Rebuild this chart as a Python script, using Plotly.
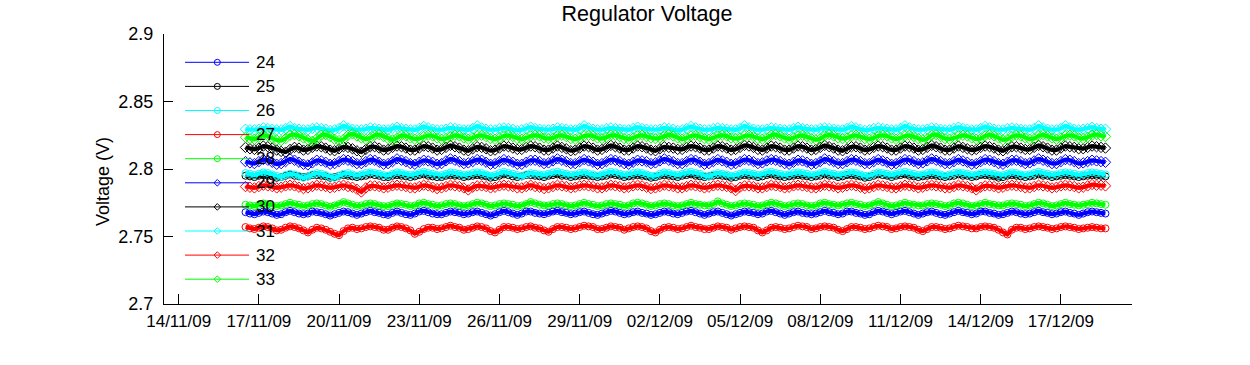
import pandas as pd
import plotly.graph_objects as go

# ---------------- data (mV, 4-hourly from 16/11/09 12:00) ----------------
start_time = "2009-11-16 12:00"

v24 = [2768, 2767, 2766.5, 2767.5, 2768.5, 2768, 2767, 2766, 2766.5, 2768, 2769, 2768,
       2767, 2766.5, 2767, 2768.5, 2768, 2767.5, 2766.5, 2765.5, 2766.5, 2767.5, 2768.5, 2768,
       2767, 2766, 2767, 2768, 2769, 2768, 2767.5, 2766.5, 2766, 2767.5, 2768.5, 2767.5,
       2766.5, 2766, 2767, 2768.5, 2769, 2768, 2767, 2766.5, 2766.5, 2767.5, 2768.5, 2768,
       2767.5, 2766.5, 2767, 2768, 2768.5, 2767.5, 2766.5, 2765.5, 2766.5, 2768, 2769, 2768,
       2767, 2766, 2767, 2768.5, 2768.5, 2767.5, 2767, 2766.5, 2767.5, 2768.5, 2769, 2768,
       2767.5, 2766.5, 2767, 2768, 2768.5, 2767.5, 2766.5, 2766, 2767, 2768, 2769, 2768.5,
       2767.5, 2766.5, 2767, 2768, 2768.5, 2767.5, 2767, 2766, 2766.5, 2767.5, 2768.5, 2768,
       2767, 2766.5, 2767.5, 2768.5, 2769, 2768, 2767, 2766, 2767, 2768, 2768.5, 2767.5,
       2766.5, 2765.5, 2766.5, 2767.5, 2768.5, 2768, 2767.5, 2766.5, 2767, 2768.5, 2769, 2768,
       2767, 2766, 2767, 2768, 2768.5, 2767.5, 2767, 2766.5, 2767, 2768, 2769, 2768,
       2767.5, 2766.5, 2767, 2768.5, 2768.5, 2767.5, 2767, 2766, 2766.5, 2768, 2769, 2768.5,
       2767.5, 2766.5, 2767.5, 2768.5, 2769, 2768, 2767, 2766, 2767, 2768, 2768.5, 2767.5,
       2766.5, 2766, 2767, 2768, 2769, 2768, 2767.5, 2766.5, 2767, 2768.5, 2768.5, 2767.5,
       2767, 2766, 2766.5, 2767.5, 2768.5, 2768, 2767, 2766.5, 2767, 2768, 2769, 2768,
       2767.5, 2766.5, 2767, 2768, 2768.5, 2767.5, 2767, 2766, 2767, 2768, 2768.5, 2768,
       2767.5, 2767]

v25 = [2795, 2794.5, 2794, 2795, 2795.5, 2795, 2794.5, 2793.5, 2794, 2795, 2796, 2795,
       2794.5, 2794, 2794.5, 2795.5, 2795.5, 2795, 2794.5, 2793.5, 2794, 2795, 2795.5, 2795,
       2794.5, 2794, 2794.5, 2795, 2796, 2795.5, 2795, 2794, 2794, 2795, 2795.5, 2795,
       2794.5, 2794, 2794.5, 2795.5, 2796, 2795, 2794.5, 2794, 2794, 2795, 2795.5, 2795,
       2795, 2794, 2794.5, 2795, 2795.5, 2795, 2794.5, 2793.5, 2794, 2795, 2796, 2795.5,
       2794.5, 2794, 2794.5, 2795.5, 2795.5, 2795, 2794.5, 2794, 2795, 2795.5, 2796, 2795,
       2795, 2794, 2794.5, 2795, 2795.5, 2795, 2794.5, 2794, 2794.5, 2795, 2796, 2795.5,
       2795, 2794, 2794.5, 2795, 2795.5, 2795, 2794.5, 2793.5, 2794, 2795, 2795.5, 2795,
       2794.5, 2794, 2795, 2795.5, 2796, 2795, 2794.5, 2794, 2794.5, 2795, 2795.5, 2795,
       2794.5, 2793.5, 2794, 2795, 2795.5, 2795, 2795, 2794, 2794.5, 2795.5, 2796, 2795,
       2794.5, 2794, 2794.5, 2795, 2795.5, 2795, 2794.5, 2794, 2794.5, 2795, 2796, 2795,
       2795, 2794, 2794.5, 2795.5, 2795.5, 2795, 2794.5, 2793.5, 2794, 2795, 2796, 2795.5,
       2795, 2794, 2795, 2795.5, 2796, 2795, 2794.5, 2794, 2794.5, 2795, 2795.5, 2795,
       2794.5, 2794, 2794.5, 2795, 2796, 2795, 2795, 2794, 2794.5, 2795.5, 2795.5, 2795,
       2794.5, 2793.5, 2794, 2795, 2795.5, 2795, 2794.5, 2794, 2794.5, 2795, 2796, 2795,
       2795, 2794, 2794.5, 2795, 2795.5, 2795, 2794.5, 2794, 2794.5, 2795, 2795.5, 2795,
       2795, 2794.5]

v26 = [2797, 2796.5, 2795.5, 2796.5, 2797.5, 2797, 2796, 2795, 2794, 2795.5, 2796.5, 2796,
       2795, 2793.5, 2794.5, 2796, 2797, 2796.5, 2795.5, 2794, 2793.5, 2795, 2796.5, 2797,
       2796, 2795, 2796, 2797, 2797.5, 2797, 2796.5, 2795.5, 2795, 2796.5, 2797.5, 2797,
       2796, 2795.5, 2796, 2797, 2798, 2797, 2796.5, 2795.5, 2795.5, 2796.5, 2797.5, 2797,
       2796.5, 2795.5, 2796, 2797, 2797.5, 2797, 2796, 2795, 2795.5, 2797, 2798, 2797,
       2796.5, 2795.5, 2794.5, 2796, 2797, 2796.5, 2796, 2795.5, 2796.5, 2797.5, 2798, 2797,
       2796.5, 2795.5, 2796, 2797, 2797.5, 2796.5, 2796, 2795, 2796, 2797, 2798, 2797.5,
       2796.5, 2795.5, 2796, 2797, 2797.5, 2797, 2796, 2795, 2795, 2796.5, 2797.5, 2797,
       2796, 2795.5, 2796.5, 2797.5, 2798, 2797, 2796.5, 2795, 2794.5, 2796, 2797, 2796.5,
       2796, 2795, 2795.5, 2796.5, 2797.5, 2797, 2796.5, 2795.5, 2796, 2797.5, 2798, 2797,
       2796.5, 2795.5, 2796, 2797, 2797.5, 2797, 2796.5, 2795.5, 2796, 2797, 2798, 2797,
       2796.5, 2795.5, 2796, 2797, 2797.5, 2797, 2796, 2795, 2795, 2796.5, 2797.5, 2797,
       2796.5, 2795.5, 2796.5, 2797.5, 2798, 2797, 2796.5, 2795.5, 2796, 2797, 2797.5, 2797,
       2796, 2795, 2796, 2797, 2797.5, 2797, 2796.5, 2795.5, 2796, 2797, 2797.5, 2797,
       2796.5, 2795.5, 2795.5, 2796.5, 2797.5, 2797, 2796, 2795.5, 2796, 2797, 2798, 2797,
       2796.5, 2795.5, 2796, 2797, 2797.5, 2797, 2796.5, 2795.5, 2796, 2797, 2797.5, 2797,
       2796.5, 2796]

v27 = [2757, 2756, 2755.5, 2756.5, 2757.5, 2757, 2756, 2754.5, 2755, 2756.5, 2757.5, 2757,
       2756, 2754.5, 2753, 2755, 2756.5, 2756, 2755, 2753.5, 2752, 2751, 2754, 2756,
       2756.5, 2755.5, 2756, 2757, 2757.5, 2757, 2756.5, 2755, 2755, 2756.5, 2757.5, 2757,
       2756, 2754.5, 2752, 2753.5, 2755.5, 2756.5, 2756.5, 2755.5, 2756, 2757, 2758, 2757,
       2756.5, 2755, 2755.5, 2756.5, 2757.5, 2757, 2756, 2754, 2753, 2755, 2757, 2757,
       2756.5, 2755.5, 2756, 2757, 2757.5, 2756.5, 2756, 2754.5, 2753.5, 2755.5, 2757, 2757,
       2756.5, 2755.5, 2756, 2757, 2758, 2757.5, 2757, 2755.5, 2755.5, 2756.5, 2757.5, 2757,
       2756.5, 2755, 2756, 2757, 2757.5, 2757, 2756, 2754, 2753, 2755, 2756.5, 2757,
       2756.5, 2755.5, 2756, 2757, 2758, 2757, 2756.5, 2755.5, 2755.5, 2756.5, 2757.5, 2757,
       2756.5, 2755, 2756, 2757, 2757.5, 2757, 2756.5, 2754.5, 2753, 2754.5, 2756.5, 2757,
       2756.5, 2755.5, 2756, 2757, 2758, 2757.5, 2757, 2755.5, 2756, 2757, 2757.5, 2757,
       2756.5, 2755, 2754, 2755.5, 2757, 2757, 2756.5, 2755.5, 2756, 2757, 2758, 2757.5,
       2757, 2755.5, 2756, 2757, 2757.5, 2757, 2756.5, 2755, 2754, 2755.5, 2757, 2757,
       2756.5, 2755.5, 2756, 2757, 2758, 2757.5, 2757, 2756, 2756, 2757, 2757.5, 2757,
       2756.5, 2755, 2753, 2751.5, 2755, 2756.5, 2756.5, 2755.5, 2756, 2757, 2757.5, 2757,
       2756.5, 2755.5, 2756, 2757, 2757.5, 2757, 2756.5, 2755.5, 2756, 2756.5, 2757, 2756.5,
       2756, 2756]

v28 = [2773.5, 2773, 2772.5, 2773.5, 2774.5, 2774, 2773, 2772.5, 2773, 2774, 2775, 2774,
       2773.5, 2772.5, 2773, 2774, 2774.5, 2774, 2773, 2772, 2773, 2774, 2775.5, 2774.5,
       2773.5, 2772.5, 2773, 2774, 2774.5, 2774, 2773, 2772.5, 2772.5, 2773.5, 2774.5, 2774,
       2773.5, 2772.5, 2773, 2774.5, 2775, 2774, 2773.5, 2772.5, 2773, 2774, 2774.5, 2774,
       2773, 2772.5, 2773, 2774, 2775, 2774.5, 2773.5, 2772.5, 2773, 2774, 2774.5, 2774,
       2773.5, 2772.5, 2773, 2774, 2775.5, 2774.5, 2773.5, 2773, 2773, 2774, 2774.5, 2774,
       2773, 2772.5, 2773, 2774, 2775, 2774, 2773.5, 2772.5, 2773, 2774, 2774.5, 2774,
       2773.5, 2772.5, 2773, 2774.5, 2775, 2774.5, 2773.5, 2772.5, 2773, 2774, 2774.5, 2774,
       2773, 2772.5, 2773, 2774, 2775, 2774, 2773.5, 2773, 2773, 2774, 2776, 2774.5,
       2773.5, 2772.5, 2773, 2774, 2774.5, 2774, 2773.5, 2772.5, 2773, 2774, 2775, 2774.5,
       2773.5, 2772.5, 2773, 2774, 2774.5, 2774, 2773, 2772.5, 2773, 2774.5, 2775, 2774,
       2773.5, 2773, 2773.5, 2774.5, 2775, 2774, 2773.5, 2772.5, 2773, 2774, 2775.5, 2774.5,
       2773.5, 2772.5, 2773, 2774, 2775, 2774, 2773.5, 2773, 2773, 2774, 2774.5, 2774,
       2773.5, 2772.5, 2773, 2774.5, 2775, 2774.5, 2773.5, 2772.5, 2773, 2774, 2775, 2774,
       2773.5, 2773, 2773, 2774, 2774.5, 2774, 2773.5, 2772.5, 2773, 2774, 2775, 2774.5,
       2773.5, 2772.5, 2773, 2774, 2775, 2774, 2773.5, 2773, 2773.5, 2774, 2775, 2774.5,
       2774, 2773.5]

v29 = [2805.5, 2804.5, 2804, 2805.5, 2807, 2806.5, 2805, 2803.5, 2804, 2805.5, 2807.5, 2806.5,
       2805, 2803.5, 2803, 2804.5, 2806.5, 2806, 2805, 2803.5, 2804, 2805.5, 2807, 2806.5,
       2805.5, 2804, 2804, 2805.5, 2807, 2806.5, 2805, 2803.5, 2804, 2805.5, 2807.5, 2806.5,
       2805.5, 2804, 2803.5, 2805, 2806.5, 2806, 2805, 2803.5, 2804, 2806, 2807.5, 2806.5,
       2805.5, 2804, 2804.5, 2805.5, 2807, 2806.5, 2805, 2803.5, 2804, 2805.5, 2807, 2806,
       2805, 2803.5, 2803.5, 2805, 2806.5, 2806.5, 2805.5, 2804, 2804.5, 2806, 2807.5, 2806.5,
       2805.5, 2804, 2804, 2805.5, 2807, 2806, 2805, 2803.5, 2804, 2805.5, 2807, 2806.5,
       2805.5, 2804, 2803.5, 2805, 2806.5, 2806, 2805.5, 2804, 2804.5, 2806, 2807.5, 2806.5,
       2805.5, 2804, 2804, 2805.5, 2807, 2806.5, 2805, 2803.5, 2804, 2805.5, 2807, 2806,
       2805, 2803.5, 2804, 2805.5, 2807, 2806.5, 2805.5, 2804, 2804.5, 2806, 2807, 2806.5,
       2805.5, 2804, 2803.5, 2805, 2806.5, 2806, 2805, 2803.5, 2804, 2805.5, 2807.5, 2806.5,
       2805.5, 2804, 2804, 2805.5, 2807, 2806.5, 2805.5, 2804, 2804, 2805.5, 2807, 2806,
       2805, 2803.5, 2804, 2805.5, 2807, 2806.5, 2805.5, 2804, 2804.5, 2806, 2807.5, 2806.5,
       2805.5, 2804, 2804, 2805.5, 2807, 2806, 2805, 2803.5, 2804, 2805.5, 2807, 2806.5,
       2805.5, 2804, 2803.5, 2805, 2806.5, 2806.5, 2805.5, 2804, 2804.5, 2806, 2807.5, 2806.5,
       2805.5, 2804, 2804, 2805.5, 2807, 2806.5, 2805.5, 2804, 2804.5, 2805.5, 2806.5, 2806,
       2805.5, 2805]

v30 = [2816, 2815, 2814.5, 2815.5, 2817, 2816.5, 2815.5, 2814, 2813, 2812.5, 2814.5, 2816,
       2815.5, 2814, 2814.5, 2816, 2817, 2816.5, 2815.5, 2814, 2813.5, 2815, 2816.5, 2816,
       2815, 2813.5, 2812.5, 2814.5, 2816.5, 2816.5, 2815.5, 2814, 2814.5, 2816, 2817, 2816.5,
       2815.5, 2814, 2814, 2815.5, 2817, 2816.5, 2815.5, 2814, 2814.5, 2816, 2817.5, 2816.5,
       2815.5, 2814, 2813.5, 2815, 2816.5, 2816, 2815, 2813.5, 2814, 2815.5, 2817, 2816.5,
       2815.5, 2814.5, 2814.5, 2816, 2817, 2816.5, 2815.5, 2814, 2814, 2815.5, 2817, 2816,
       2815, 2813.5, 2814, 2815.5, 2817, 2816.5, 2815.5, 2814, 2814.5, 2816, 2817.5, 2816.5,
       2815.5, 2814, 2814, 2815.5, 2817, 2816.5, 2815.5, 2814, 2813.5, 2815, 2816.5, 2816,
       2815.5, 2814.5, 2814.5, 2816, 2817, 2816.5, 2815.5, 2814, 2814, 2815.5, 2817, 2816.5,
       2815.5, 2814, 2814.5, 2816, 2817.5, 2817, 2816, 2814.5, 2814, 2815.5, 2817, 2816.5,
       2815.5, 2814, 2814, 2815.5, 2817, 2816.5, 2815.5, 2814, 2814.5, 2816, 2817.5, 2816.5,
       2815.5, 2814, 2813.5, 2815, 2816.5, 2816.5, 2815.5, 2814, 2814.5, 2816, 2817, 2816.5,
       2815.5, 2814, 2814, 2815.5, 2817, 2816.5, 2815.5, 2814, 2814.5, 2816, 2817.5, 2816.5,
       2815.5, 2814, 2814, 2815.5, 2817, 2816, 2815, 2814, 2814.5, 2816, 2817, 2816.5,
       2815.5, 2814, 2813.5, 2815, 2816.5, 2816.5, 2815.5, 2814.5, 2814.5, 2816, 2817.5, 2816.5,
       2815.5, 2814, 2814, 2815.5, 2817, 2816.5, 2816, 2815, 2815, 2816, 2817, 2816.5,
       2816, 2815.5]

v31 = [2829.5, 2829, 2829, 2829.5, 2830.5, 2830, 2829.5, 2829, 2829, 2830, 2831.5, 2830,
       2829.5, 2829, 2829, 2830, 2830.5, 2830, 2829.5, 2828.5, 2829, 2830, 2832, 2830.5,
       2829.5, 2829, 2829, 2829.5, 2830.5, 2830, 2829.5, 2829, 2829, 2830, 2831, 2830,
       2829.5, 2829, 2829, 2830, 2831.5, 2830.5, 2829.5, 2829, 2829, 2829.5, 2830.5, 2830,
       2829.5, 2829, 2829, 2830, 2832, 2830.5, 2829.5, 2829, 2829, 2830, 2830.5, 2830,
       2829.5, 2828.5, 2829, 2830, 2831, 2830, 2829.5, 2829, 2829, 2829.5, 2830.5, 2830,
       2829.5, 2829, 2829, 2830, 2832, 2830.5, 2829.5, 2829, 2829, 2830, 2830.5, 2830,
       2829.5, 2829, 2829, 2830, 2831, 2830, 2829.5, 2829, 2829, 2829.5, 2830.5, 2830,
       2829.5, 2828.5, 2829, 2830, 2831.5, 2830.5, 2829.5, 2829, 2829, 2830, 2830.5, 2830,
       2829.5, 2829, 2829, 2830, 2832, 2830.5, 2829.5, 2829, 2829, 2829.5, 2830.5, 2830,
       2829.5, 2829, 2829, 2830, 2831, 2830, 2829.5, 2829, 2829, 2830, 2830.5, 2830,
       2829.5, 2829, 2829, 2830, 2831.5, 2830.5, 2829.5, 2828.5, 2829, 2830, 2830.5, 2830,
       2829.5, 2829, 2829, 2830, 2832, 2830.5, 2829.5, 2829, 2829, 2829.5, 2830.5, 2830,
       2829.5, 2829, 2829, 2830, 2831, 2830, 2829.5, 2829, 2829, 2830, 2831.5, 2830.5,
       2829.5, 2829, 2829, 2830, 2830.5, 2830, 2829.5, 2829, 2829, 2830, 2832, 2830.5,
       2829.5, 2829, 2829, 2830, 2832, 2830.5, 2829.5, 2829, 2829.5, 2830, 2831, 2830,
       2829.5, 2829.5]

v32 = [2787, 2786.5, 2786, 2787, 2788, 2787.5, 2787, 2786, 2786.5, 2787.5, 2788, 2787.5,
       2786.5, 2785.5, 2786, 2787, 2788, 2787.5, 2787, 2786, 2786.5, 2787.5, 2788, 2787,
       2786.5, 2785, 2783, 2786, 2787.5, 2787.5, 2787, 2786, 2786.5, 2787.5, 2788, 2787.5,
       2787, 2786, 2786, 2787, 2788, 2787.5, 2786.5, 2785.5, 2786, 2787, 2788, 2787.5,
       2787, 2786, 2784.5, 2786.5, 2787.5, 2787.5, 2787, 2786, 2786.5, 2787.5, 2788, 2787.5,
       2787, 2786, 2786, 2787, 2788, 2787, 2786.5, 2785.5, 2786, 2787, 2788, 2787.5,
       2787, 2786, 2786.5, 2787.5, 2788, 2787.5, 2787, 2786, 2786, 2787, 2788, 2787.5,
       2787, 2786, 2786.5, 2787.5, 2788, 2787.5, 2786.5, 2785.5, 2786, 2787, 2788, 2787.5,
       2787, 2786, 2786, 2787, 2788, 2787.5, 2787, 2786, 2786.5, 2787.5, 2788, 2787.5,
       2787, 2786, 2784, 2786.5, 2787.5, 2787.5, 2787, 2786, 2786, 2787, 2788, 2787.5,
       2787, 2786, 2786.5, 2787.5, 2788, 2787.5, 2787, 2786, 2786, 2787, 2788, 2787.5,
       2787, 2786, 2786.5, 2787.5, 2788, 2787.5, 2786.5, 2785.5, 2786, 2787, 2788, 2787.5,
       2787, 2786, 2786, 2787, 2788, 2787.5, 2787, 2786, 2786.5, 2787.5, 2788, 2787.5,
       2787, 2786, 2786, 2787, 2788, 2787.5, 2787, 2786, 2784.5, 2786.5, 2787.5, 2787.5,
       2787, 2786, 2786.5, 2787.5, 2788, 2787.5, 2787, 2786, 2786, 2787, 2788, 2787.5,
       2787, 2786, 2786.5, 2787.5, 2788, 2787.5, 2787, 2786, 2786.5, 2787.5, 2788.5, 2788,
       2788, 2787.5]

v33 = [2823.5, 2822.5, 2822, 2823.5, 2825, 2824.5, 2823, 2821.5, 2821, 2822.5, 2825, 2825.5,
       2824.5, 2823, 2821.5, 2820.5, 2822.5, 2825, 2825.5, 2824, 2822, 2821, 2822, 2825,
       2826, 2824.5, 2823, 2822, 2823, 2825, 2825.5, 2824, 2822.5, 2821.5, 2823, 2825,
       2824.5, 2823, 2822, 2822.5, 2824, 2825, 2824.5, 2823, 2822, 2822.5, 2824, 2825,
       2824.5, 2823, 2822, 2823, 2824.5, 2825, 2824, 2822.5, 2822, 2823, 2824.5, 2825,
       2824, 2822.5, 2822, 2823, 2824.5, 2825, 2824.5, 2823, 2822.5, 2823, 2824.5, 2825,
       2824, 2822.5, 2822, 2823, 2824.5, 2825, 2824.5, 2823, 2822.5, 2823.5, 2825, 2825,
       2824, 2822.5, 2822, 2823, 2824.5, 2825, 2824, 2823, 2822.5, 2823, 2824.5, 2825.5,
       2824.5, 2823, 2822, 2823, 2824.5, 2825, 2824, 2822.5, 2822, 2823, 2824.5, 2825,
       2824.5, 2823, 2822.5, 2823, 2824.5, 2825, 2824, 2822.5, 2822, 2823, 2825, 2825.5,
       2824.5, 2823, 2822, 2823, 2824.5, 2825, 2824, 2822.5, 2821.5, 2822.5, 2824.5, 2825.5,
       2824.5, 2823, 2822.5, 2823, 2824.5, 2825, 2824, 2822.5, 2822, 2823, 2824.5, 2825,
       2824.5, 2823, 2822, 2823, 2824.5, 2825, 2824, 2822.5, 2821.5, 2822.5, 2825, 2825.5,
       2824, 2822.5, 2822, 2823, 2824.5, 2825, 2824.5, 2823, 2822, 2822.5, 2824.5, 2825.5,
       2824.5, 2823, 2821.5, 2822, 2824, 2825, 2824.5, 2823, 2822, 2822.5, 2824.5, 2825.5,
       2824.5, 2823, 2822, 2823, 2824.5, 2825, 2824.5, 2823, 2822.5, 2823.5, 2825, 2825.5,
       2824.5, 2824]

series_names = ["24", "25", "26", "27", "28", "29", "30", "31", "32", "33"]
series_values = [v24, v25, v26, v27, v28, v29, v30, v31, v32, v33]
series_colors = ["#0000FF", "#000000", "#00FFFF", "#FF0000", "#00FF00",
                 "#0000FF", "#000000", "#00FFFF", "#FF0000", "#00FF00"]
series_symbols = ["circle-open"] * 5 + ["diamond-open"] * 5

tick_dates = ["2009-11-14", "2009-11-17", "2009-11-20", "2009-11-23", "2009-11-26",
              "2009-11-29", "2009-12-02", "2009-12-05", "2009-12-08", "2009-12-11",
              "2009-12-14", "2009-12-17"]
tick_labels = ["14/11/09", "17/11/09", "20/11/09", "23/11/09", "26/11/09", "29/11/09",
               "02/12/09", "05/12/09", "08/12/09", "11/12/09", "14/12/09", "17/12/09"]
y_ticks = [2.7, 2.75, 2.8, 2.85, 2.9]
y_tick_labels = ["2.7", "2.75", "2.8", "2.85", "2.9"]

# ---------------- figure ----------------
W, H = 1250, 365
# axes box in page pixels: x 164..1131.7, y 34..304 (body margin removed below)
L = 164
T = 34
R = W - 1131.7
B = H - 304
FONT = "Liberation Sans, Arial, Helvetica, sans-serif"

fig = go.Figure()
for name, vals, col, sym in zip(series_names, series_values, series_colors, series_symbols):
    times = pd.date_range(start_time, periods=len(vals), freq="4h")
    fig.add_trace(go.Scatter(
        x=times, y=[v / 1000.0 for v in vals], name=name, mode="lines+markers",
        line=dict(color=col, width=4),
        marker=dict(symbol=sym, size=7 if sym.startswith("circle") else 8,
                    color=col, line=dict(color=col, width=1)),
        showlegend=False, hoverinfo="skip"))

pw, ph = W - L - R, H - T - B
def px(x):  # page px -> paper x
    return (x - L) / pw
def py(y):  # page px -> paper y
    return (H - B - y) / ph

shapes, annotations = [], []
for i, (name, col, sym) in enumerate(zip(series_names, series_colors, series_symbols)):
    yy = 62.3 + 24.1 * i
    shapes.append(dict(type="line", xref="paper", yref="paper", x0=px(185), x1=px(249),
                       y0=py(yy), y1=py(yy), line=dict(color=col, width=1)))
    if sym.startswith("circle"):
        shapes.append(dict(type="circle", xref="paper", yref="paper",
                           x0=px(214.3), x1=px(220.3), y0=py(yy + 3), y1=py(yy - 3),
                           line=dict(color=col, width=1), fillcolor="rgba(0,0,0,0)"))
    else:
        cx, cy = px(217.3), py(yy)
        dx, dy = 3.3 / pw, 3.3 / ph
        shapes.append(dict(type="path", xref="paper", yref="paper",
                           path=f"M {cx-dx},{cy} L {cx},{cy+dy} L {cx+dx},{cy} L {cx},{cy-dy} Z",
                           line=dict(color=col, width=1), fillcolor="rgba(0,0,0,0)"))
    annotations.append(dict(text=name, xref="paper", yref="paper", x=px(254), y=py(yy),
                            xanchor="left", yanchor="middle", showarrow=False,
                            font=dict(family=FONT, size=17, color="black")))

annotations.append(dict(text="Voltage (V)", xref="paper", yref="paper", x=px(103), y=py(181),
                        xanchor="center", yanchor="middle", textangle=-90, showarrow=False,
                        font=dict(family=FONT, size=18, color="black")))

fig.update_layout(
    width=W, height=H,
    margin=dict(l=L, r=R, t=T, b=B),
    paper_bgcolor="white", plot_bgcolor="white",
    font=dict(family=FONT, size=17, color="black"),
    title=dict(text="Regulator Voltage", x=647 / W, xref="container", xanchor="center",
               y=1 - 13 / H, yref="container", yanchor="middle",
               font=dict(family=FONT, size=21.5, color="black")),
    shapes=shapes, annotations=annotations,
    hovermode=False,
    xaxis=dict(type="date", range=["2009-11-13 10:50", "2009-12-19 15:50"],
               tickmode="array", tickvals=tick_dates, ticktext=tick_labels,
               ticks="inside", ticklen=10, tickwidth=1, tickcolor="black",
               showline=True, linecolor="black", linewidth=1, mirror=False,
               showgrid=False, zeroline=False, tickfont=dict(size=17),
               ticklabelstandoff=2),
    yaxis=dict(range=[2.7, 2.9], tickmode="array", tickvals=y_ticks, ticktext=y_tick_labels,
               ticks="inside", ticklen=9, tickwidth=1, tickcolor="black",
               showline=True, linecolor="black", linewidth=1, mirror=False,
               showgrid=False, zeroline=False, tickfont=dict(size=18),
               ticklabelstandoff=6),
)

fig.write_html("out.html", config={"displayModeBar": False},
               post_script="document.body.style.margin='0';document.body.style.padding='0';")
